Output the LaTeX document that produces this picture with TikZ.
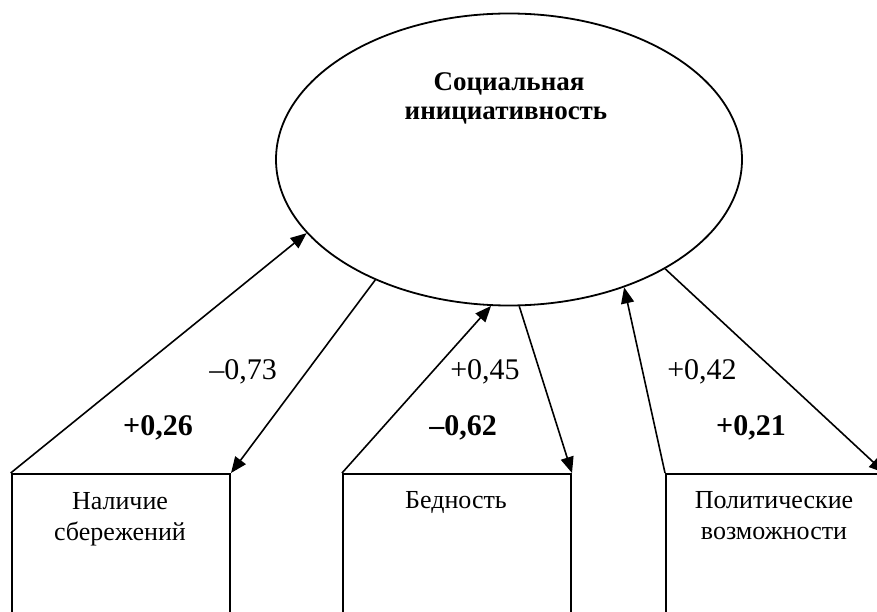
\documentclass[tikz,border=0pt]{standalone}
\usepackage{fontspec}
\setmainfont{Liberation Serif}
\usetikzlibrary{arrows.meta,calc,shapes.geometric}
\tikzset{
  conn/.style={line width=1.6pt,-{Triangle[length=16pt,width=13pt]}},
  boxnode/.style={draw,line width=2pt,anchor=north west,minimum height=200pt,inner sep=0pt},
  boxtext/.style={align=center,anchor=base,inner sep=0pt,font=\fontsize{26}{31}\selectfont},
  coef/.style={anchor=base,inner sep=0pt,font=\fontsize{30}{34}\selectfont},
  coefb/.style={anchor=base,inner sep=0pt,font=\fontsize{30}{34}\selectfont\bfseries},
  titletext/.style={anchor=base,inner sep=0pt,font=\fontsize{27}{29}\selectfont\bfseries}
}
\begin{document}
\begin{tikzpicture}[x=1pt,y=-1pt]
\clip (0,0) rectangle (877,612);
\fill[white] (0,0) rectangle (877,612);
% latent variable
\node[draw,ellipse,line width=1.8pt,minimum width=466pt,minimum height=292pt,inner sep=0pt] (E) at (509,159.5) {};
\node[titletext] (t1) at (509,91) {Социальная};
\node[titletext] (t2) at (506,120) {инициативность};
% boxes
\node[boxnode,minimum width=218.3pt] (B1) at (10.7,473) {};
\node[boxnode,minimum width=228pt] (B2) at (342,473) {};
\node[boxnode,minimum width=218pt] (B3) at (665,473) {};
\node[boxtext] (b1a) at (120,509) {Наличие};
\node[boxtext] (b1b) at (120,540) {сбережений};
\node[boxtext] (b2a) at (456,508) {Бедность};
\node[boxtext] (b3a) at (774,508) {Политические};
\node[boxtext] (b3b) at (774,539) {возможности};
% connectors
\draw[conn] (B1.north west) -- (E.200.5);
\draw[conn] (E.222) -- (B1.north east);
\draw[conn] (B2.north west) -- (E.263.8);
\draw[conn] (E.274.3) -- (B2.north east);
\draw[conn] (B3.north west) -- (E.312.8);
\draw[conn] (E.325.8) -- (B3.north east);
% coefficients
\node[coef] (c1) at (243,379) {–0,73};
\node[coefb] (c2) at (158,435) {+0,26};
\node[coef] (c3) at (485,379) {+0,45};
\node[coefb] (c4) at (463,435) {–0,62};
\node[coef] (c5) at (702,379) {+0,42};
\node[coefb] (c6) at (751,435) {+0,21};
\end{tikzpicture}
\end{document}
